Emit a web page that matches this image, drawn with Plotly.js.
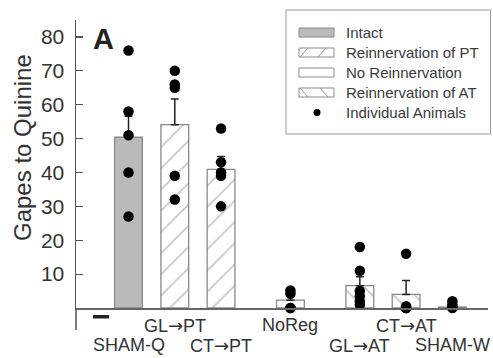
<!DOCTYPE html>
<html>
<head>
<meta charset="utf-8">
<script src="https://cdn.plot.ly/plotly-3.0.1.min.js"></script>
<style>html,body{margin:0;padding:0;background:#fff;}#chart{width:493px;height:358px;}</style>
</head>
<body>
<div id="chart"></div>
<script>
// ---- data ----
const groups = ['SHAM-Q', 'GL\u2192PT', 'CT\u2192PT', 'NoReg', 'GL\u2192AT', 'CT\u2192AT', 'SHAM-W'];
const conditions = ['Intact', 'Reinnervation of PT', 'Reinnervation of PT', 'No Reinnervation',
                    'Reinnervation of AT', 'Reinnervation of AT', 'Intact'];
const means = [50.4, 54.1, 40.9, 2.3, 6.6, 4.0, 0.3];
const sems  = [6.2, 7.6, 3.8, 1.2, 2.6, 4.1, 0.3];
const animalsShamQ = [76, 58, 51, 40, 27];
const animalsGLPT  = [70, 66, 65, 39, 32];
const animalsCTPT  = [53, 43, 40, 39, 30];
const animalsNoReg = [5.2, 4.2, 0, 0];
const animalsGLAT  = [18, 11, 5, 3.5, 2, 1];
const animalsCTAT  = [16, 0.5, 0, 0];
const animalsShamW = [2, 1, 0.3, 0];
const legendLabels = ['Intact', 'Reinnervation of PT', 'No Reinnervation', 'Reinnervation of AT', 'Individual Animals'];
const yTicks = [10, 20, 30, 40, 50, 60, 70, 80];

// ---- layout helpers ----
const W = 493, H = 358;
const M = {l: 76, r: 5, t: 20, b: 50};
const pw = W - M.l - M.r, ph = H - M.t - M.b;
const px = x => (x - M.l) / pw;
const py = y => (H - M.b - y) / ph;
// gap of half a slot before and after NoReg
const pos = groups.map((g, i) => i + (i >= 3 ? 0.5 : 0) + (i >= 4 ? 0.5 : 0));

const styleFor = {
  'Intact': {color: '#bababa', shape: ''},
  'Reinnervation of PT': {color: '#ffffff', shape: '/'},
  'No Reinnervation': {color: '#ffffff', shape: ''},
  'Reinnervation of AT': {color: '#ffffff', shape: '\\'}
};

const traces = [];
Object.keys(styleFor).forEach(cond => {
  const idx = conditions.map((c, i) => c === cond ? i : -1).filter(i => i >= 0);
  const st = styleFor[cond];
  const marker = {color: st.color, line: {color: '#8a8a8a', width: 1.3}};
  if (st.shape) marker.pattern = {shape: st.shape, fgcolor: '#8f8f8f', bgcolor: '#ffffff', size: 15, solidity: 0.12, fillmode: 'overlay'};
  traces.push({
    type: 'bar', x: idx.map(i => pos[i]), y: idx.map(i => means[i]), width: 0.6,
    marker: marker,
    error_y: {type: 'data', array: idx.map(i => sems[i]), arrayminus: idx.map(() => 0), symmetric: false,
              color: '#222', thickness: 1.5, width: 4},
    showlegend: false, hoverinfo: 'skip'
  });
});

const animals = [animalsShamQ, animalsGLPT, animalsCTPT, animalsNoReg, animalsGLAT, animalsCTAT, animalsShamW];
const dotX = [], dotY = [];
animals.forEach((arr, i) => arr.forEach(v => { dotX.push(pos[i]); dotY.push(v); }));
traces.push({
  type: 'scatter', mode: 'markers', x: dotX, y: dotY,
  marker: {color: '#000', size: 10.5},
  showlegend: false, hoverinfo: 'skip', cliponaxis: false
});

const font = 'Liberation Sans, Arial, Helvetica, sans-serif';
const shapes = [];
const annotations = [];

// y axis line continuing toward the lower panel
shapes.push({type: 'line', xref: 'paper', yref: 'paper', x0: px(76), x1: px(76), y0: py(308), y1: py(330),
             line: {color: '#555', width: 1.5}});
// top of the clipped lower-panel letter
shapes.push({type: 'rect', xref: 'paper', yref: 'paper', x0: px(93), x1: px(109), y0: py(318.5), y1: py(315),
             fillcolor: '#222', line: {width: 0}});

// legend box
shapes.push({type: 'rect', xref: 'paper', yref: 'paper', x0: px(286), x1: px(490.5), y0: py(134), y1: py(10),
             fillcolor: '#fff', line: {color: '#999', width: 1}, layer: 'above'});
legendLabels.forEach((lab, i) => {
  const cy = 32.5 + i * 20;
  if (i < 4) {
    const st = styleFor[lab];
    shapes.push({type: 'rect', xref: 'paper', yref: 'paper', x0: px(299), x1: px(334), y0: py(cy + 4.5), y1: py(cy - 4.5),
                 fillcolor: st.color, line: {color: '#8a8a8a', width: 1}, layer: 'above'});
    if (st.shape === '/') {
      [300, 318].forEach(x0 => shapes.push({type: 'line', xref: 'paper', yref: 'paper',
        x0: px(x0), y0: py(cy + 4.5), x1: px(x0 + 8), y1: py(cy - 4.5), line: {color: '#999', width: 1}, layer: 'above'}));
    } else if (st.shape === '\\') {
      [300, 320].forEach(x0 => shapes.push({type: 'line', xref: 'paper', yref: 'paper',
        x0: px(x0), y0: py(cy - 4.5), x1: px(x0 + 8), y1: py(cy + 4.5), line: {color: '#999', width: 1}, layer: 'above'}));
    }
  } else {
    shapes.push({type: 'circle', xref: 'paper', yref: 'paper', x0: px(313.5), x1: px(320.5), y0: py(cy + 3.5), y1: py(cy - 3.5),
                 fillcolor: '#000', line: {width: 0}, layer: 'above'});
  }
  annotations.push({xref: 'paper', yref: 'paper', x: px(344), y: py(cy), xanchor: 'left', yanchor: 'middle',
                    text: lab, showarrow: false, font: {family: font, size: 15, color: '#3a3a3a'}});
});

// staggered category labels; arrow drawn with DejaVu for a full-size glyph
groups.forEach((g, i) => {
  const lower = i % 2 === 0;
  const txt = g.replace('\u2192', '<span style="font-family:DejaVu Sans">\u2192</span>');
  annotations.push({xref: 'x', yref: 'paper', x: pos[i], y: py(lower ? 345 : 325), xanchor: 'center', yanchor: 'middle',
                    text: txt, showarrow: false, font: {family: font, size: 18, color: '#333'}});
});
// panel letter
annotations.push({xref: 'paper', yref: 'paper', x: px(103), y: py(39), xanchor: 'center', yanchor: 'middle',
                  text: '<b>A</b>', showarrow: false, font: {family: font, size: 29, color: '#222'}});
// y axis title
annotations.push({xref: 'paper', yref: 'paper', x: px(22), y: py(148), xanchor: 'center', yanchor: 'middle', textangle: -90,
                  text: 'Gapes to Quinine', showarrow: false, font: {family: font, size: 24, color: '#333'}});

const layout = {
  width: W, height: H, margin: M,
  paper_bgcolor: '#fff', plot_bgcolor: '#fff',
  showlegend: false, barmode: 'overlay',
  xaxis: {range: [-1.135, 7.77], showline: true, linecolor: '#666', linewidth: 1.5, showgrid: false,
          zeroline: false, showticklabels: false, ticks: '', fixedrange: true},
  yaxis: {range: [0, 85], showline: true, linecolor: '#555', linewidth: 1.5, showgrid: false, zeroline: false,
          tickvals: yTicks, ticktext: yTicks.map(String), ticks: 'inside', ticklen: 7, tickwidth: 1.2, tickcolor: '#555',
          tickfont: {family: font, size: 21, color: '#333'}, ticklabelstandoff: 6, fixedrange: true},
  shapes: shapes, annotations: annotations
};

Plotly.newPlot('chart', traces, layout, {staticPlot: true, displayModeBar: false});
</script>
</body>
</html>
